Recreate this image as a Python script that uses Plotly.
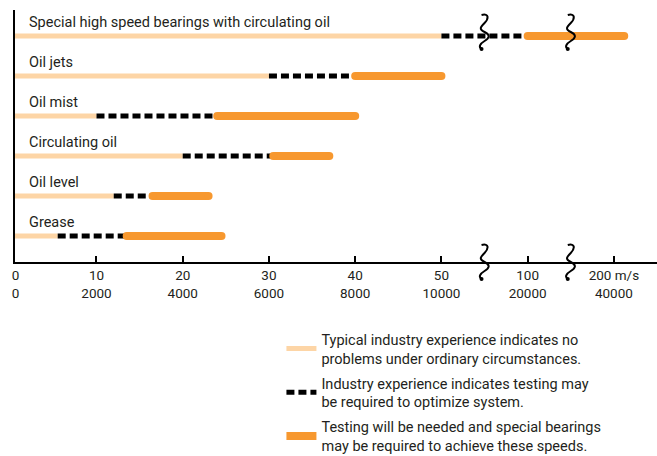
import plotly.graph_objects as go

# ---------------- data ----------------
categories = [
    "Special high speed bearings with circulating oil",
    "Oil jets",
    "Oil mist",
    "Circulating oil",
    "Oil level",
    "Grease",
]
# segment end speeds in m/s
typical_end = [50, 30, 10, 20, 12, 5.5]
testing_end = [100, 40, 24, 30.5, 16.5, 13.5]
special_end = [212, 50, 40, 37, 23, 24.5]

speed_ticks = [0, 10, 20, 30, 40, 50, 100, 200]
speed_labels = ["0", "10", "20", "30", "40", "50", "100", "200 m/s"]
dn_labels = ["0", "2000", "4000", "6000", "8000", "10000", "20000", "40000"]

legend_texts = [
    "Typical industry experience indicates no<br>problems under ordinary circumstances.",
    "Industry experience indicates testing may<br>be required to optimize system.",
    "Testing will be needed and special bearings<br>may be required to achieve these speeds.",
]

PEACH = "#FDD5A6"
BLACK = "#000000"
ORANGE = "#F7982F"
TEXT = "#231F20"
FONT = "Roboto, Liberation Sans, sans-serif"


# broken axis: 0-50 linear, 50-100 and 100-200 compressed
def disp(v):
    if v <= 50:
        return v
    if v <= 100:
        return 50 + (v - 50) / 5.0
    return 60 + (v - 100) / 10.0


X_RANGE = [0.55, 75]


def segs(starts, ends):
    xs, ys = [], []
    for i, (a, b) in enumerate(zip(starts, ends)):
        xs += [disp(a), disp(b), None]
        ys += [i, i, None]
    return xs, ys


n = len(categories)
px, py = segs([0] * n, typical_end)
bx, by = segs(typical_end, testing_end)
ox, oy = segs(testing_end, special_end)

fig = go.Figure()
fig.add_trace(go.Scatter(x=px, y=py, mode="lines", name=legend_texts[0], legendgroup="a",
                         line=dict(color=PEACH, width=5), hoverinfo="skip"))
fig.add_trace(go.Scatter(x=bx, y=by, mode="lines", name=legend_texts[1], legendgroup="b",
                         line=dict(color=BLACK, width=5, dash="8px,4px"), hoverinfo="skip"))
fig.add_trace(go.Scatter(x=ox, y=oy, mode="lines+markers", name=legend_texts[2], legendgroup="c",
                         line=dict(color=ORANGE, width=8),
                         marker=dict(color=ORANGE, size=8, line=dict(width=0)),
                         hoverinfo="skip"))

# row labels
for i, c in enumerate(categories):
    fig.add_annotation(x=0.019, xref="paper", y=i, yref="y", text=c, showarrow=False,
                       xanchor="left", yanchor="bottom", yshift=3,
                       font=dict(family=FONT, size=14.5, color=TEXT))

# axis break squiggles
PX_PER_X = 642 / (X_RANGE[1] - X_RANGE[0])
PX_PER_YPAPER = 252.0
PX_PER_Y = 40.0


def squiggle(cx, cy, yref, ysign, yscale):
    pts = [("M", [(-3, -17)]),
           ("C", [(5, -19), (4, -13), (0, -9)]),
           ("S", [(-6, -3), (0, 0)]),
           ("S", [(5, 6), (0, 9)]),
           ("S", [(-6, 15), (-3, 17)])]
    out = []
    for cmd, p in pts:
        coords = " ".join(f"{cx + dx / PX_PER_X:.4f},{cy + ysign * dy / yscale:.4f}" for dx, dy in p)
        out.append(f"{cmd}{coords}")
    fig.add_shape(type="path", path=" ".join(out), xref="x", yref=yref,
                  line=dict(color=BLACK, width=2))
    dx, dy = -3, 17
    r = 2
    fig.add_shape(type="circle", xref="x", yref=yref,
                  x0=cx + (dx - r) / PX_PER_X, x1=cx + (dx + r) / PX_PER_X,
                  y0=cy + ysign * (dy - r) / yscale, y1=cy + ysign * (dy + r) / yscale,
                  fillcolor=BLACK, line=dict(color=BLACK, width=0))


for b in [55, 65]:
    squiggle(b, 0, "paper", -1, PX_PER_YPAPER)
    squiggle(b, -0.1, "y", 1, PX_PER_Y)

fig.update_layout(
    width=657, height=456,
    margin=dict(l=15, r=0, t=10, b=194, autoexpand=False),
    paper_bgcolor="white", plot_bgcolor="white",
    font=dict(family=FONT, color=TEXT),
    showlegend=True,
    legend=dict(x=0.415, y=-0.243, xanchor="left", yanchor="top",
                font=dict(family=FONT, size=14.5, color=TEXT),
                bgcolor="rgba(0,0,0,0)", traceorder="grouped", tracegroupgap=3),
    xaxis=dict(range=X_RANGE, showgrid=False, zeroline=False,
               showline=True, linecolor=BLACK, linewidth=2,
               ticks="inside", ticklen=6, tickwidth=2, tickcolor=BLACK,
               tickvals=[max(disp(v), 0.6) for v in speed_ticks],
               ticktext=[f"{a}<br>{b}" for a, b in zip(speed_labels, dn_labels)],
               tickfont=dict(family=FONT, size=13.5, color=TEXT)),
    yaxis=dict(range=[5.65, -0.65], showgrid=False, zeroline=False,
               showline=True, linecolor=BLACK, linewidth=2,
               showticklabels=False, ticks=""),
)

fig.write_html("out.html", config={"displayModeBar": False},
               post_script="document.body.style.margin='0';")
